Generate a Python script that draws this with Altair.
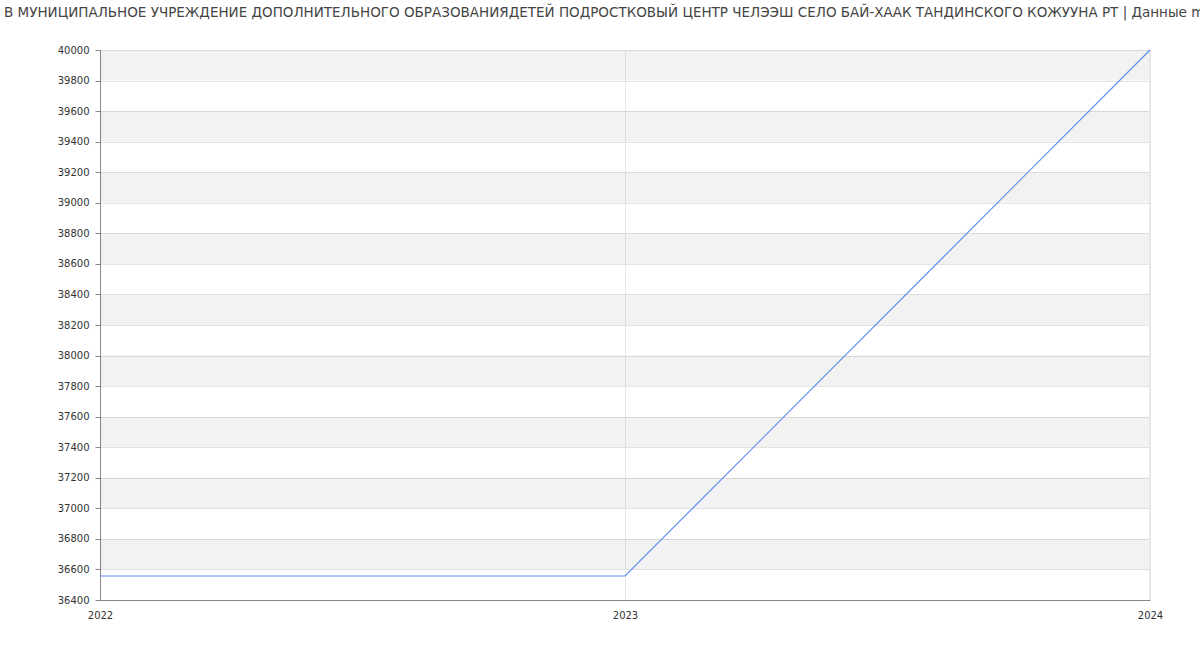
import altair as alt
import pandas as pd

title_text = ("В МУНИЦИПАЛЬНОЕ УЧРЕЖДЕНИЕ ДОПОЛНИТЕЛЬНОГО ОБРАЗОВАНИЯДЕТЕЙ ПОДРОСТКОВЫЙ ЦЕНТР "
              "ЧЕЛЭЭШ СЕЛО БАЙ-ХААК ТАНДИНСКОГО КОЖУУНА РТ | Данные mbrief.ru")
years = ["2022", "2023", "2024"]
values = [36557, 36557, 40000]
y_ticks = [36400, 36600, 36800, 37000, 37200, 37400, 37600, 37800, 38000, 38200,
           38400, 38600, 38800, 39000, 39200, 39400, 39600, 39800, 40000]

df = pd.DataFrame({"year": years, "value": values})
bands = pd.DataFrame({"lo": y_ticks[1:-1:2], "hi": y_ticks[2::2]})

W, H = 1050, 550
yscale = alt.Scale(domain=[36400, 40000], nice=False, zero=False)
xscale = alt.Scale(type="point", domain=years, padding=0)

yaxis = alt.Axis(values=y_ticks, format="d", grid=True, gridColor="#e3e3e3",
                 domainColor="#888888", tickColor="#888888", tickSize=5,
                 labelFontSize=10, labelColor="#333333", labelPadding=6,
                 labelOverlap=False)
xaxis = alt.Axis(grid=True, gridColor="#e8e8e8", labelAngle=0,
                 domainColor="#888888", ticks=False, labelFontSize=10,
                 labelColor="#333333", labelPadding=10,
                 labelOverlap=False)

band_layer = alt.Chart(bands).mark_rect(color="#000000", opacity=0.051).encode(
    x=alt.value(0), x2=alt.value(W),
    y=alt.Y("lo:Q", scale=yscale, title=None, axis=yaxis), y2="hi:Q",
)

line = alt.Chart(df).mark_line(color="#5b8def", strokeWidth=1.2).encode(
    x=alt.X("year:O", scale=xscale, title=None, axis=xaxis),
    y=alt.Y("value:Q", scale=yscale, title=None, axis=yaxis),
)

right_edge = alt.Chart(df).mark_rule(color="#e6e6e6").encode(
    x=alt.value(W), y=alt.value(0), y2=alt.value(H)
)

title = alt.Chart(df.head(1)).mark_text(
    align="left", baseline="middle", fontSize=13.5, color="#444444", font="DejaVu Sans"
).encode(
    x=alt.value(-96), y=alt.value(-37), text=alt.value(title_text)
)

chart = alt.layer(band_layer, right_edge, line, title).properties(
    width=W, height=H,
    autosize=alt.AutoSizeParams(type="none"),
    padding={"left": 100, "top": 50, "right": 50, "bottom": 50},
).configure_view(stroke=None).configure_axis(labelFont="DejaVu Sans")

chart.save("out.html", embed_options={"renderer": "svg", "actions": False})
